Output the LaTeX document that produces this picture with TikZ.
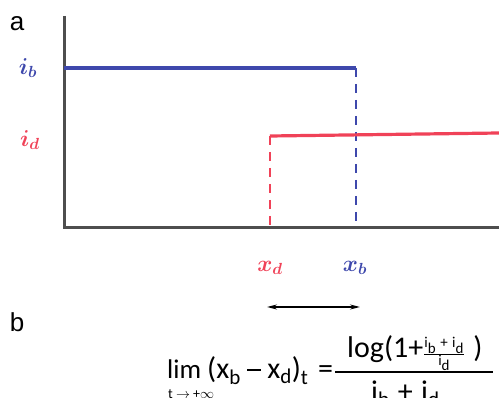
\RequirePackage{fix-cm}
\documentclass[tikz,border=0pt]{standalone}
\usepackage{amsmath}
\usepackage{fontspec}
\newfontfamily\panelfont{Liberation Sans}
\newfontfamily\formulafont{Carlito}
\usetikzlibrary{arrows.meta}
\definecolor{lineblue}{RGB}{62,72,172}
\definecolor{linered}{RGB}{240,66,88}
\definecolor{axisgray}{RGB}{78,78,78}
\newcommand{\tx}[1]{\text{#1}}
\newcommand{\dashminus}{\rule[0.26em]{0.44em}{0.065em}}
\begin{document}
\begin{tikzpicture}[x=1pt,y=-1pt,
  axisline/.style={axisgray,line width=3pt},
  levelline/.style={line width=3.2pt},
  dropline/.style={line width=2.3pt,dash pattern=on 9pt off 7pt},
  panel/.style={font=\panelfont\fontsize{26}{30}\selectfont},
  mathlabel/.style={font=\fontsize{23}{27}\selectfont},
  eqpart/.style={anchor=base west,inner sep=0pt,font=\formulafont\fontsize{30}{36}\selectfont}]
\useasboundingbox (0,0) rectangle (499,398);
\clip (0,0) rectangle (499,398);
% axes
\coordinate (ytop) at (64,16);
\coordinate (origin) at (64,228);
\coordinate (xend) at (499,228);
\draw[axisline] (ytop) -- (origin) -- (xend);
% levels
\coordinate (bstart) at (64,68);
\coordinate (bcorner) at (356,68);
\coordinate (bfoot) at (356,228);
\coordinate (dcorner) at (270,136);
\coordinate (dend) at (499,133);
\coordinate (dfoot) at (270,228);
\draw[levelline,lineblue] (bstart) -- (bcorner);
\draw[dropline,lineblue] (bcorner) -- (bfoot);
\draw[levelline,linered] (dcorner) -- (dend);
\draw[dropline,linered] (dcorner) -- (dfoot);
% labels
\node[panel] (pa) at (17,24) {a};
\node[mathlabel,text=lineblue] (ib) at (28,68) {$\boldsymbol{i_b}$};
\node[mathlabel,text=linered] (id) at (30,140) {$\boldsymbol{i_d}$};
\node[mathlabel,text=linered] (xd) at (270,268) {$\boldsymbol{x_d}$};
\node[mathlabel,text=lineblue] (xb) at (355,268) {$\boldsymbol{x_b}$};
% distance
\coordinate (arrowL) at (267,307);
\coordinate (arrowR) at (360,307);
\draw[{Stealth[length=10pt,width=5pt]}-{Stealth[length=10pt,width=5pt]},line width=1.4pt] (arrowL) -- (arrowR);
% formula
\node[panel] (pb) at (17,322) {b};
\node[eqpart,font=\formulafont\fontsize{27}{32}\selectfont] (lim) at (167,379) {lim};
\node[eqpart,font=\formulafont\fontsize{14}{17}\selectfont] (limsub) at (168,399) {t $\rightarrow$ +$\infty$};
\node[eqpart] (diff) at (207,379) {$\tx{(x}_{\tx{b}}\mskip4mu\tx{\dashminus}\mskip4mu\tx{x}_{\tx{d}}\tx{)}_{\tx{t}}$};
\node[eqpart] (eq) at (318,379) {=};
\node[eqpart] (num) at (347,358) {log(1+$\genfrac{}{}{0.6pt}{3}{\tx{i}_{\tx{b}}\;\tx{+}\;\tx{i}_{\tx{d}}}{\tx{i}_{\tx{d}}}$\;)};
\coordinate (barL) at (335,372);
\coordinate (barR) at (493,372);
\draw[line width=1.6pt] (barL) -- (barR);
\node[eqpart] (den) at (371,402) {$\tx{i}_{\tx{b}}\;\tx{+}\;\tx{i}_{\tx{d}}$};
\end{tikzpicture}
\end{document}
